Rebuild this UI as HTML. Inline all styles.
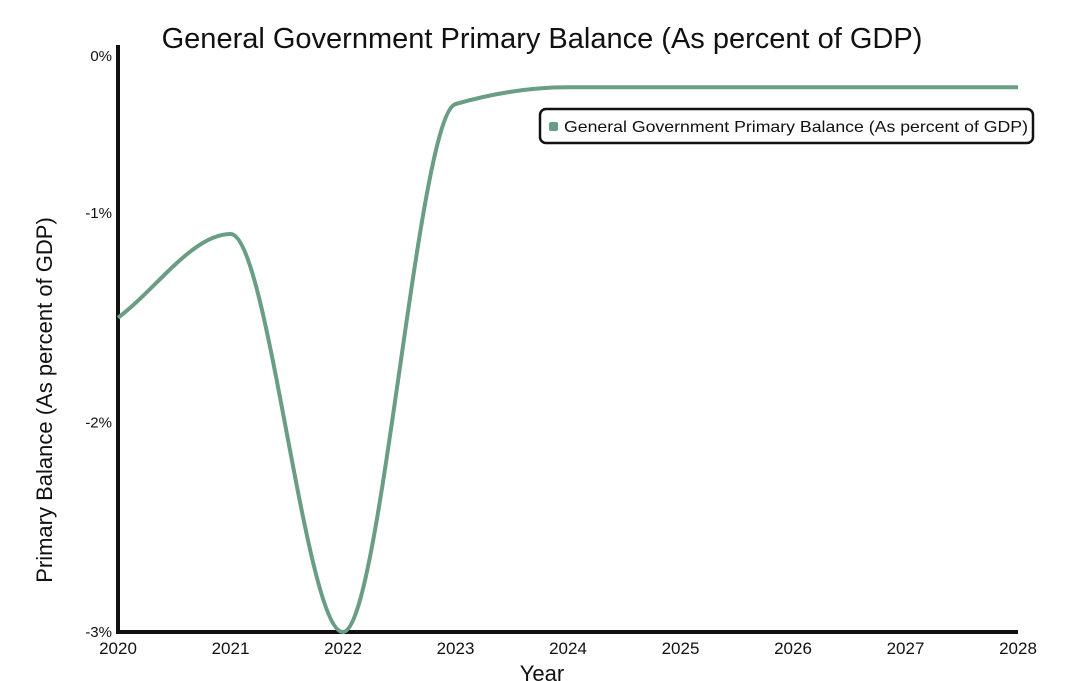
<!DOCTYPE html>
<html><head><meta charset="utf-8"><style>
html,body{margin:0;padding:0;background:#fff;}
svg{display:block;font-family:"Comic Sans MS","Liberation Sans",sans-serif;}
</style></head><body>
<svg id="chart" width="1070" height="681" viewBox="0 0 1070 681">
<text x="542" y="48" text-anchor="middle" font-size="29" fill="#111">General Government Primary Balance (As percent of GDP)</text>
<text transform="translate(52,400) rotate(-90)" text-anchor="middle" font-size="22" fill="#111">Primary Balance (As percent of GDP)</text>
<text x="542" y="681" text-anchor="middle" font-size="22" fill="#111">Year</text>
<g id="axes"></g>
<g id="series"></g>
<g>
<rect x="540" y="109" width="493" height="34" rx="6" fill="#fff" stroke="#111" stroke-width="2.5"/>
<rect x="549" y="122" width="9" height="9" rx="2" fill="#6a9e84"/>
<text x="564" y="132" font-size="16" fill="#111" textLength="464" lengthAdjust="spacingAndGlyphs">General Government Primary Balance (As percent of GDP)</text>
</g>
</svg>
<script>
const years = [2020,2021,2022,2023,2024,2025,2026,2027,2028];
const balance = [-1.5,-1.1,-3.0,-0.48,-0.40,-0.40,-0.40,-0.40,-0.40];
const yTicks = [0,-1,-2,-3];
const yTickLabels = ["0%","-1%","-2%","-3%"];
const xTickLabels = ["2020","2021","2022","2023","2024","2025","2026","2027","2028"];

const NS="http://www.w3.org/2000/svg";
function xs(v){return 118+(v-2020)*(900/8);}
function ys(v){return 213+(-1-v)*209.5;}
function mk(t,a,p){const e=document.createElementNS(NS,t);for(const k in a)e.setAttribute(k,a[k]);p.appendChild(e);return e;}
const axes=document.getElementById('axes');
const yAxis=mk('line',{x1:118,y1:45,x2:118,y2:632,stroke:'#111','stroke-width':4},axes);


const xAxis=mk('line',{x1:116,y1:632,x2:1018,y2:632,stroke:'#111','stroke-width':4},axes);


yTicks.forEach((v,i)=>{
  const y=Math.max(ys(v),56);
  const t=mk('text',{x:112,y:y+5,'text-anchor':'end','font-size':15,fill:'#111'},axes);
  t.textContent=yTickLabels[i];
  
  
});
years.forEach((v,i)=>{
  const t=mk('text',{x:xs(v),y:654,'text-anchor':'middle','font-size':17,fill:'#111'},axes);
  t.textContent=xTickLabels[i];
  
  
});
const P=years.map((y,i)=>[xs(y),ys(balance[i])]);
const n=P.length,d=[],m=[];
for(let i=0;i<n-1;i++)d.push((P[i+1][1]-P[i][1])/(P[i+1][0]-P[i][0]));
for(let i=0;i<n;i++){
  if(i===0)m.push(d[0]);else if(i===n-1)m.push(d[n-2]);
  else m.push(d[i-1]*d[i]<=0?0:2/(1/d[i-1]+1/d[i]));
}
let path='M'+P[0][0]+','+P[0][1];
for(let i=0;i<n-1;i++){
  const h=(P[i+1][0]-P[i][0])/3;
  path+=' C'+(P[i][0]+h)+','+(P[i][1]+m[i]*h)+' '+(P[i+1][0]-h)+','+(P[i+1][1]-m[i+1]*h)+' '+P[i+1][0]+','+P[i+1][1];
}
const line=mk('path',{d:path,fill:'none',stroke:'#6a9e84','stroke-width':4,'stroke-linejoin':'round'},document.getElementById('series'));


</script>
</body></html>
